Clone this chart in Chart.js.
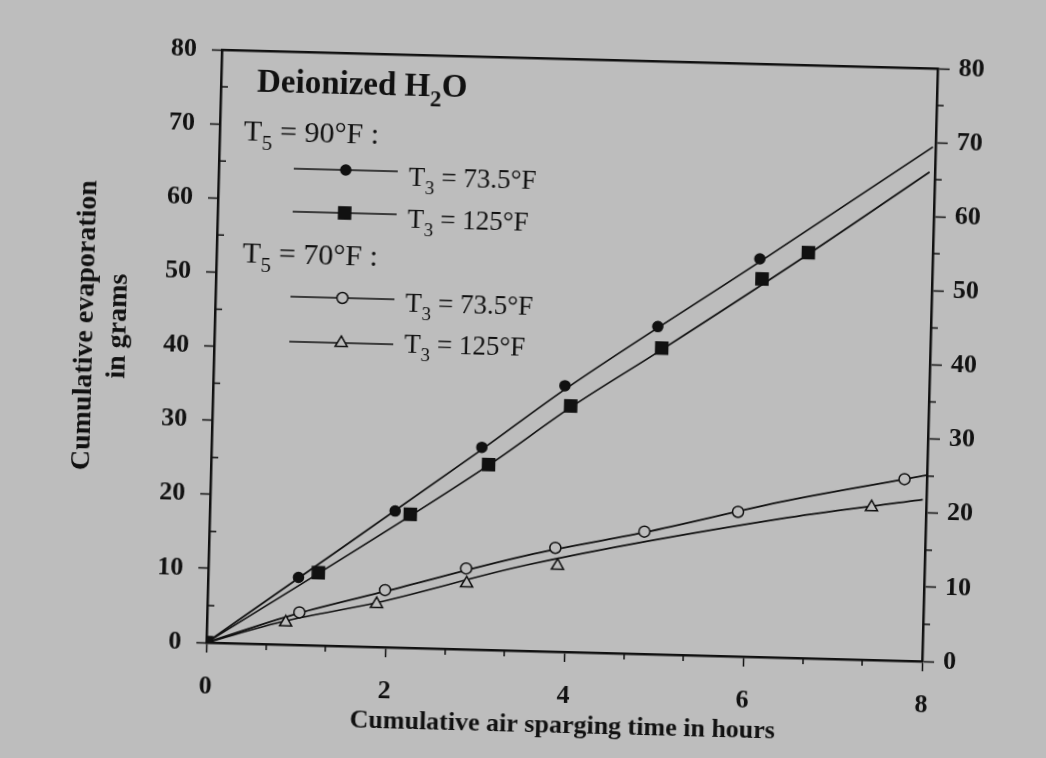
<!DOCTYPE html>
<html>
<head>
<meta charset="utf-8">
<script src="https://cdn.jsdelivr.net/npm/chart.js@4"></script>
<style>
  html, body { margin: 0; padding: 0; background: #bdbdbd; overflow: hidden; }
  /* the scanned figure sits slightly tilted on the page */
  #wrap { position: relative; width: 1046px; height: 758px; transform: rotate(1.5deg); transform-origin: 572px 356px; }
</style>
</head>
<body>
<div id="wrap"><canvas id="chart"></canvas></div>
<script>
// T5 = 90F, T3 = 73.5F (filled circles)
const hours90a = [0, 1.01, 2.07, 3.02, 3.93, 4.95, 6.07];
const grams90a = [0, 9.1, 18.4, 27.3, 35.9, 44.2, 53.7];
// T5 = 90F, T3 = 125F (filled squares)
const hours90b = [0, 1.23, 2.24, 3.10, 4.00, 5.00, 6.10, 6.61];
const grams90b = [0, 9.8, 18.0, 25.0, 33.2, 41.3, 51.0, 54.7];
// T5 = 70F, T3 = 73.5F (open circles)
const hours70a = [0, 1.03, 1.98, 2.88, 3.87, 4.86, 5.90, 7.75];
const grams70a = [0, 4.4, 7.7, 10.9, 14.0, 16.5, 19.5, 24.5];
// T5 = 70F, T3 = 125F (open triangles)
const hours70b = [0, 0.88, 1.89, 2.89, 3.90, 7.39];
const grams70b = [0, 3.0, 5.8, 8.9, 11.6, 20.6];

// fitted curves as drawn through the data
const fitHours90a = [0, 1.01, 3.02, 3.93, 6.07, 7.97];
const fitGrams90a = [0, 9.0, 27.0, 35.4, 53.3, 69.4];
const fitHours90b = [0, 1.23, 3.10, 4.00, 5.00, 6.61, 7.94];
const fitGrams90b = [0, 9.7, 24.9, 33.0, 41.1, 54.5, 66.0];
const fitHours70a = [0, 1, 2, 3.56, 4.86, 6.45, 8.0];
const fitGrams70a = [0, 4.2, 7.6, 12.9, 16.4, 21.2, 25.1];
const fitHours70b = [0, 0.88, 1.9, 3.56, 6.46, 7.96];
const fitGrams70b = [0, 3.2, 6.0, 11.6, 18.9, 21.8];

const hourTicks = [0, 2, 4, 6, 8];
const gramTicks = [0, 10, 20, 30, 40, 50, 60, 70, 80];
const minorHours = [0.67, 1.33, 2.67, 3.33, 4.67, 5.33, 6.67, 7.33];
const minorGrams = [5, 15, 25, 35, 45, 55, 65, 75];

const paper = '#bdbdbd';
const ink = '#111';
const serif = '"Liberation Serif", "Times New Roman", serif';

function pts(xs, ys) { return xs.map((x, i) => ({ x: x, y: ys[i] })); }

function marks(label, xs, ys, style, radius, fill) {
  return {
    label: label, data: pts(xs, ys), showLine: false,
    pointStyle: style, pointRadius: radius, pointHoverRadius: radius,
    pointBackgroundColor: fill, pointBorderColor: ink, pointBorderWidth: 1.5
  };
}
function fit(xs, ys) {
  return {
    label: '', data: pts(xs, ys), showLine: true, pointRadius: 0,
    borderColor: ink, borderWidth: 1.7, cubicInterpolationMode: 'monotone', fill: false
  };
}

// T with a subscript, then the rest of the text
function subText(ctx, x, y, main, sub, rest, size, bold) {
  const w = bold ? 'bold ' : '';
  ctx.font = w + size + 'px ' + serif;
  ctx.fillText(main, x, y);
  x += ctx.measureText(main).width;
  ctx.font = w + Math.round(size * 0.7) + 'px ' + serif;
  ctx.fillText(sub, x, y + size * 0.3);
  x += ctx.measureText(sub).width;
  ctx.font = w + size + 'px ' + serif;
  ctx.fillText(rest, x, y);
}

const legendBox = {
  id: 'legendBox',
  afterDatasetsDraw(chart) {
    const ctx = chart.ctx;
    ctx.save();
    ctx.fillStyle = ink;
    ctx.textBaseline = 'alphabetic';
    subText(ctx, 250, 100, 'Deionized H', '2', 'O', 33, true);
    subText(ctx, 238, 149, 'T', '5', ' = 90\u00B0F :', 30, false);
    subText(ctx, 240, 271, 'T', '5', ' = 70\u00B0F :', 30, false);
    const rows = [
      { ds: 0, y: 176, base: 190, text: ' = 73.5\u00B0F' },
      { ds: 1, y: 219, base: 232, text: ' = 125\u00B0F' },
      { ds: 2, y: 304, base: 316, text: ' = 73.5\u00B0F' },
      { ds: 3, y: 349, base: 357, text: ' = 125\u00B0F' }
    ];
    rows.forEach(r => {
      const m = chart.data.datasets[r.ds];
      ctx.strokeStyle = ink;
      ctx.lineWidth = 1.7;
      ctx.beginPath();
      ctx.moveTo(289, r.y);
      ctx.lineTo(393, r.y);
      ctx.stroke();
      ctx.fillStyle = m.pointBackgroundColor;
      ctx.lineWidth = m.pointBorderWidth;
      Chart.helpers.drawPoint(ctx, { pointStyle: m.pointStyle, radius: m.pointRadius, borderWidth: m.pointBorderWidth }, 341, r.y);
      ctx.fillStyle = ink;
      subText(ctx, 404, r.base, 'T', '3', r.text, 27, false);
    });
    ctx.restore();
  }
};

const minorTicks = {
  id: 'minorTicks',
  afterDraw(chart) {
    const { ctx, chartArea: a, scales: { x, y } } = chart;
    ctx.save();
    ctx.strokeStyle = ink;
    ctx.lineWidth = 1.5;
    ctx.beginPath();
    minorGrams.forEach(v => {
      const py = y.getPixelForValue(v);
      ctx.moveTo(a.left, py); ctx.lineTo(a.left + 7, py);
      ctx.moveTo(a.right, py); ctx.lineTo(a.right + 7, py);
    });
    minorHours.forEach(v => {
      const px = x.getPixelForValue(v);
      ctx.moveTo(px, a.bottom); ctx.lineTo(px, a.bottom + 6);
    });
    ctx.stroke();
    ctx.restore();
  }
};

const tickFont = { family: serif, size: 26, weight: 'bold' };
const axisGrid = { drawOnChartArea: false, drawTicks: true, tickLength: 10, color: ink, tickWidth: 1.5 };
const axisBorder = { display: true, color: ink, width: 2.5 };

new Chart(document.getElementById('chart'), {
  type: 'scatter',
  data: {
    datasets: [
      marks('T5 = 90\u00B0F, T3 = 73.5\u00B0F', hours90a, grams90a, 'circle', 5, ink),
      marks('T5 = 90\u00B0F, T3 = 125\u00B0F', hours90b, grams90b, 'rect', 8.5, ink),
      marks('T5 = 70\u00B0F, T3 = 73.5\u00B0F', hours70a, grams70a, 'circle', 5.5, paper),
      marks('T5 = 70\u00B0F, T3 = 125\u00B0F', hours70b, grams70b, 'triangle', 7, paper),
      fit(fitHours90a, fitGrams90a),
      fit(fitHours90b, fitGrams90b),
      fit(fitHours70a, fitGrams70a),
      fit(fitHours70b, fitGrams70b)
    ]
  },
  options: {
    responsive: true,
    maintainAspectRatio: false,
    animation: false,
    layout: { padding: 0 },
    plugins: { legend: { display: false }, tooltip: { enabled: false } },
    scales: {
      x: {
        type: 'linear', position: 'bottom', min: 0, max: 8,
        afterBuildTicks: s => { s.ticks = hourTicks.map(v => ({ value: v })); },
        afterFit: s => { s.height = 106; },
        ticks: { font: tickFont, color: ink, padding: 19 },
        grid: axisGrid, border: axisBorder,
        title: { display: true, text: 'Cumulative air sparging time in hours', font: { family: serif, size: 26, weight: 'bold', lineHeight: 1.2 }, color: ink, padding: { top: 0, bottom: 16 } }
      },
      x2: {
        type: 'linear', position: 'top', min: 0, max: 8,
        afterFit: s => { s.height = 59; },
        ticks: { display: false },
        grid: { display: false }, border: axisBorder
      },
      y: {
        type: 'linear', position: 'left', min: 0, max: 80,
        afterBuildTicks: s => { s.ticks = gramTicks.map(v => ({ value: v })); },
        afterFit: s => { s.width = 214; },
        ticks: { font: tickFont, color: ink, padding: 15 },
        grid: axisGrid, border: axisBorder,
        title: { display: true, text: ['     Cumulative evaporation', '     in grams'], font: { family: serif, size: 28, weight: 'bold', lineHeight: 1.18 }, color: ink, padding: { top: 68, bottom: 0 } }
      },
      y2: {
        type: 'linear', position: 'right', min: 0, max: 80,
        afterBuildTicks: s => { s.ticks = gramTicks.map(v => ({ value: v })); },
        afterFit: s => { s.width = 116; },
        ticks: { font: tickFont, color: ink, padding: 9 },
        grid: { drawOnChartArea: false, drawTicks: true, tickLength: 12, color: ink, tickWidth: 1.5 },
        border: axisBorder
      }
    }
  },
  plugins: [legendBox, minorTicks]
});
</script>
</body>
</html>
